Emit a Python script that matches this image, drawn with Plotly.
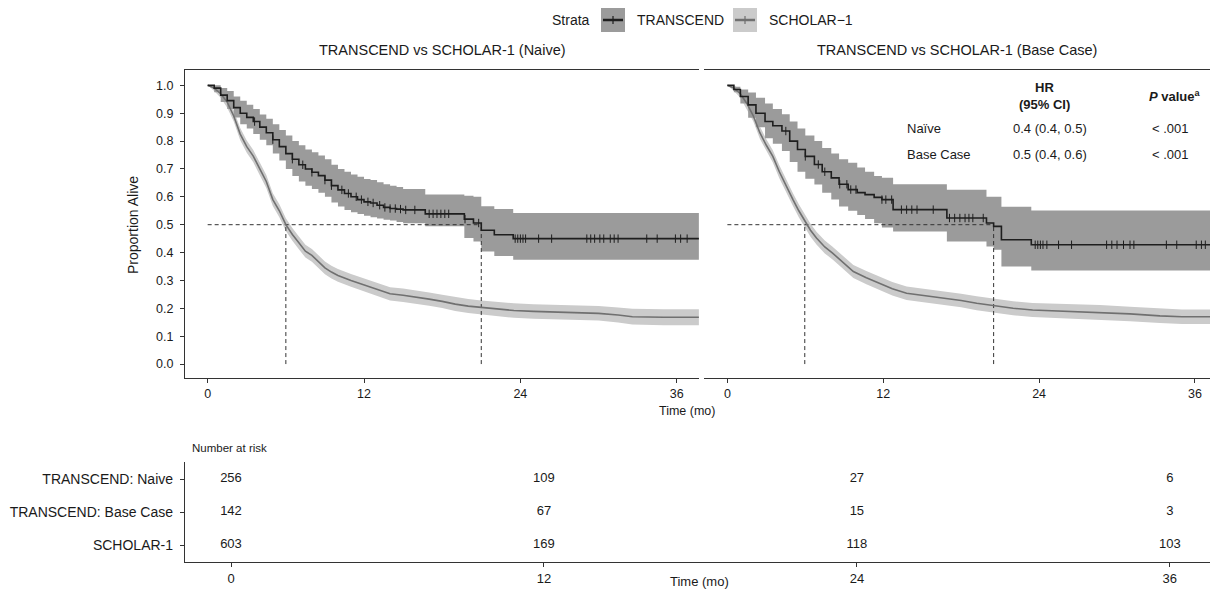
import numpy as np
import plotly.graph_objects as go

W, H = 1210, 590
FONT = "Liberation Sans, Arial, Helvetica, sans-serif"
TXT = "#1a1a1a"

# ---------------- data ----------------
# Left panel: TRANSCEND (Naive)
tn_t  = [0, 0.5, 1.0, 1.5, 2.0, 2.5, 3.0, 3.5, 4.0, 4.5, 5.0, 5.5, 6.0, 6.5, 7.0, 7.5, 8.0, 8.5, 9.0, 9.5,
         10.0, 10.5, 11.0, 11.5, 12.0, 12.5, 13.0, 13.5, 14.0, 14.5, 15.0, 16.7, 19.7, 20.4, 21.0, 22.0, 23.45, 37.7]
tn_s  = [1.0, 0.99, 0.965, 0.945, 0.92, 0.90, 0.885, 0.87, 0.85, 0.83, 0.805, 0.78, 0.755, 0.735, 0.715, 0.70,
         0.688, 0.676, 0.66, 0.64, 0.625, 0.612, 0.60, 0.59, 0.582, 0.578, 0.57, 0.562, 0.558, 0.556, 0.553,
         0.539, 0.52, 0.506, 0.48, 0.464, 0.45, 0.45]
tn_hi = [1.0, 1.0, 0.99, 0.98, 0.96, 0.945, 0.93, 0.915, 0.895, 0.88, 0.86, 0.84, 0.82, 0.80, 0.785, 0.77,
         0.76, 0.748, 0.735, 0.715, 0.70, 0.69, 0.68, 0.672, 0.664, 0.66, 0.652, 0.645, 0.64, 0.635, 0.628,
         0.608, 0.604, 0.60, 0.566, 0.556, 0.542, 0.542]
tn_lo = [1.0, 0.975, 0.94, 0.915, 0.885, 0.86, 0.845, 0.825, 0.805, 0.785, 0.755, 0.73, 0.70, 0.675, 0.655, 0.64,
         0.628, 0.615, 0.60, 0.58, 0.565, 0.553, 0.545, 0.538, 0.532, 0.527, 0.522, 0.518, 0.515, 0.51, 0.505,
         0.494, 0.452, 0.44, 0.404, 0.388, 0.374, 0.374]
tn_cens = [3.6, 5.0, 6.5, 7.3, 8.0, 9.0, 9.5, 10.3, 10.8, 11.4, 11.8, 12.3, 12.7, 13.2, 13.6, 14.0, 14.4, 14.8,
           15.2, 15.9, 17.0, 17.3, 17.6, 17.9, 18.2, 18.5, 19.75, 20.8, 23.6, 23.8, 24.0, 24.2, 24.4, 25.4, 26.4,
           29.1, 29.4, 29.7, 30.1, 30.4, 30.9, 31.2, 31.5, 33.7, 34.5, 35.9, 36.3, 36.8]

# Left panel: SCHOLAR-1
sn_t  = [0, 0.5, 1.0, 1.5, 2.0, 2.5, 3.0, 3.5, 4.0, 4.5, 5.0, 5.5, 6.0, 6.5, 7.0, 7.5, 8.0, 8.5, 9.0, 9.5,
         10.0, 11.0, 12.0, 13.0, 14.0, 15.0, 16.0, 17.0, 18.0, 19.0, 20.0, 21.0, 22.0, 23.5, 25.0, 27.0, 29.0,
         30.0, 31.5, 32.6, 35.0, 37.7]
sn_s  = [1.0, 0.99, 0.97, 0.94, 0.89, 0.825, 0.78, 0.746, 0.70, 0.655, 0.59, 0.55, 0.50, 0.465, 0.435, 0.405,
         0.39, 0.366, 0.345, 0.33, 0.318, 0.30, 0.284, 0.268, 0.252, 0.247, 0.241, 0.233, 0.225, 0.215, 0.208,
         0.203, 0.198, 0.192, 0.189, 0.186, 0.184, 0.182, 0.176, 0.170, 0.168, 0.168]
sn_hi = [1.0, 1.0, 0.985, 0.96, 0.91, 0.847, 0.802, 0.768, 0.723, 0.678, 0.613, 0.573, 0.523, 0.488, 0.458,
         0.428, 0.413, 0.389, 0.368, 0.353, 0.341, 0.323, 0.307, 0.291, 0.276, 0.271, 0.265, 0.257, 0.249,
         0.240, 0.233, 0.228, 0.223, 0.218, 0.215, 0.212, 0.21, 0.208, 0.203, 0.198, 0.197, 0.197]
sn_lo = [1.0, 0.98, 0.955, 0.92, 0.87, 0.803, 0.758, 0.724, 0.677, 0.632, 0.567, 0.527, 0.477, 0.442, 0.412,
         0.382, 0.367, 0.343, 0.322, 0.307, 0.295, 0.277, 0.261, 0.245, 0.228, 0.223, 0.217, 0.209, 0.201,
         0.190, 0.183, 0.178, 0.173, 0.166, 0.163, 0.160, 0.158, 0.156, 0.149, 0.142, 0.139, 0.139]

# Right panel: TRANSCEND (Base Case)
tb_t  = [0, 0.5, 1.0, 1.6, 2.2, 2.9, 3.5, 4.2, 4.8, 5.4, 6.0, 6.7, 7.3, 8.0, 8.6, 9.3, 10.0, 10.6, 11.3, 11.9,
         12.76, 16.9, 19.95, 20.5, 21.1, 23.4, 37.3]
tb_s  = [1.0, 0.985, 0.96, 0.93, 0.90, 0.87, 0.855, 0.836, 0.80, 0.77, 0.745, 0.716, 0.69, 0.668, 0.645, 0.626,
         0.615, 0.608, 0.598, 0.59, 0.554, 0.524, 0.506, 0.494, 0.446, 0.428, 0.428]
tb_hi = [1.0, 0.995, 0.985, 0.974, 0.955, 0.935, 0.915, 0.896, 0.87, 0.845, 0.82, 0.80, 0.775, 0.755, 0.735,
         0.722, 0.705, 0.69, 0.675, 0.668, 0.645, 0.625, 0.60, 0.60, 0.564, 0.551, 0.551]
tb_lo = [1.0, 0.975, 0.935, 0.884, 0.85, 0.81, 0.79, 0.764, 0.725, 0.69, 0.665, 0.644, 0.615, 0.59, 0.565,
         0.55, 0.535, 0.52, 0.505, 0.49, 0.476, 0.44, 0.422, 0.41, 0.35, 0.336, 0.336]
tb_cens = [4.5, 6.0, 7.0, 7.5, 8.65, 9.2, 9.5, 9.9, 11.9, 12.2, 12.65, 13.4, 13.8, 14.2, 14.6, 15.85, 17.1,
           17.5, 17.9, 18.3, 18.6, 18.9, 19.7, 23.7, 23.9, 24.1, 24.3, 24.6, 25.5, 26.5, 29.2, 29.6, 30.0,
           30.5, 31.0, 31.3, 33.8, 34.6, 36.1, 36.5, 36.8]

# Right panel: SCHOLAR-1
sb_t  = [0, 0.5, 1.0, 1.5, 2.0, 2.5, 3.0, 3.5, 4.0, 4.5, 5.05, 5.5, 5.96, 6.4, 6.86, 7.5, 8.1, 8.9, 9.7, 10.7,
         11.7, 12.7, 13.8, 15.0, 16.4, 18.0, 19.2, 20.5, 22.0, 23.5, 26.0, 28.7, 31.0, 33.3, 35.0, 37.3]
sb_s  = [1.0, 0.99, 0.97, 0.935, 0.89, 0.83, 0.785, 0.745, 0.69, 0.64, 0.59, 0.55, 0.512, 0.48, 0.452, 0.42,
         0.398, 0.365, 0.332, 0.31, 0.29, 0.27, 0.254, 0.247, 0.24, 0.228, 0.218, 0.209, 0.20, 0.194, 0.19,
         0.186, 0.18, 0.173, 0.17, 0.17]
sb_hi = [1.0, 1.0, 0.985, 0.955, 0.91, 0.852, 0.807, 0.767, 0.713, 0.663, 0.613, 0.573, 0.535, 0.503, 0.475,
         0.443, 0.421, 0.388, 0.355, 0.334, 0.314, 0.294, 0.278, 0.271, 0.264, 0.252, 0.243, 0.234, 0.225,
         0.219, 0.216, 0.212, 0.206, 0.199, 0.196, 0.196]
sb_lo = [1.0, 0.98, 0.955, 0.915, 0.87, 0.808, 0.763, 0.723, 0.667, 0.617, 0.567, 0.527, 0.489, 0.457, 0.429,
         0.397, 0.375, 0.342, 0.309, 0.286, 0.266, 0.246, 0.23, 0.223, 0.216, 0.204, 0.193, 0.184, 0.175,
         0.169, 0.164, 0.16, 0.154, 0.147, 0.144, 0.144]

# medians (months)
med_left = [6.0, 21.0]     # SCHOLAR-1, TRANSCEND
med_right = [5.96, 20.5]

panel_titles = ["TRANSCEND vs SCHOLAR-1 (Naive)", "TRANSCEND vs SCHOLAR-1 (Base Case)"]
y_ticks = [0.0, 0.1, 0.2, 0.3, 0.4, 0.5, 0.6, 0.7, 0.8, 0.9, 1.0]
x_ticks = [0, 12, 24, 36]

hr_rows = ["Naïve", "Base Case"]
hr_vals = ["0.4 (0.4, 0.5)", "0.5 (0.4, 0.6)"]
p_vals = ["< .001", "< .001"]

risk_labels = ["TRANSCEND: Naive", "TRANSCEND: Base Case", "SCHOLAR-1"]
risk_times = [0, 12, 24, 36]
risk_counts = [[256, 109, 27, 6],
               [142, 67, 15, 3],
               [603, 169, 118, 103]]

legend_names = ["TRANSCEND", "SCHOLAR\u22121"]

# ---------------- styles ----------------
T_LINE, T_BAND = "#1e1e1e", "#9b9b9b"
S_LINE, S_BAND = "#707070", "#cbcbcb"
AX = "#333333"

def px(x):
    return x / W

def py(y):
    return 1 - y / H

def step_at(ts, ss, c):
    i = int(np.searchsorted(np.array(ts), c, side="right")) - 1
    return ss[max(i, 0)]

fig = go.Figure()

def add_panel(xa, ya, T, S, cens, med):
    tt, ts, thi, tlo = T
    st, ss, shi, slo = S
    # SCHOLAR band
    fig.add_trace(go.Scatter(x=st, y=slo, mode="lines", line=dict(width=0, shape="linear"),
                             xaxis=xa, yaxis=ya, showlegend=False, hoverinfo="skip"))
    fig.add_trace(go.Scatter(x=st, y=shi, mode="lines", line=dict(width=0, shape="linear"), fill="tonexty",
                             fillcolor=S_BAND, xaxis=xa, yaxis=ya, showlegend=False, hoverinfo="skip"))
    # TRANSCEND band
    fig.add_trace(go.Scatter(x=tt, y=tlo, mode="lines", line=dict(width=0, shape="hv"),
                             xaxis=xa, yaxis=ya, showlegend=False, hoverinfo="skip"))
    fig.add_trace(go.Scatter(x=tt, y=thi, mode="lines", line=dict(width=0, shape="hv"), fill="tonexty",
                             fillcolor=T_BAND, xaxis=xa, yaxis=ya, showlegend=False, hoverinfo="skip"))
    # dashed median guides
    fig.add_trace(go.Scatter(x=[0, med[1]], y=[0.5, 0.5], mode="lines",
                             line=dict(color=AX, width=1, dash="4px,3px"), xaxis=xa, yaxis=ya, showlegend=False))
    for m in med:
        fig.add_trace(go.Scatter(x=[m, m], y=[0.0, 0.5], mode="lines",
                                 line=dict(color=AX, width=1, dash="4px,3px"), xaxis=xa, yaxis=ya,
                                 showlegend=False))
    # lines
    fig.add_trace(go.Scatter(x=st, y=ss, mode="lines", line=dict(color=S_LINE, width=1.6, shape="linear"),
                             xaxis=xa, yaxis=ya, showlegend=False))
    fig.add_trace(go.Scatter(x=tt, y=ts, mode="lines", line=dict(color=T_LINE, width=1.6, shape="hv"),
                             xaxis=xa, yaxis=ya, showlegend=False))
    fig.add_trace(go.Scatter(x=cens, y=[step_at(tt, ts, c) for c in cens], mode="markers",
                             marker=dict(symbol="line-ns-open", size=6, color=T_LINE,
                                         line=dict(color=T_LINE, width=1)),
                             xaxis=xa, yaxis=ya, showlegend=False))

add_panel("x", "y", (tn_t, tn_s, tn_hi, tn_lo), (sn_t, sn_s, sn_hi, sn_lo), tn_cens, med_left)
add_panel("x2", "y2", (tb_t, tb_s, tb_hi, tb_lo), (sb_t, sb_s, sb_hi, sb_lo), tb_cens, med_right)

# risk table numbers
for r, (lab, counts) in enumerate(zip(risk_labels, risk_counts)):
    fig.add_trace(go.Scatter(x=risk_times, y=[3 - r] * len(risk_times), mode="text",
                             text=[str(c) for c in counts],
                             textfont=dict(family=FONT, size=13, color=TXT),
                             xaxis="x3", yaxis="y3", showlegend=False))

tickfont = dict(family=FONT, size=12.5, color=TXT)
ydom = [py(378), py(70)]
common_x = dict(tickvals=x_ticks, ticks="outside", ticklen=4, tickcolor=AX, showline=True, linecolor=AX,
                linewidth=1.3, mirror=True, showgrid=False, zeroline=False, tickfont=tickfont)

fig.update_layout(
    width=W, height=H, margin=dict(l=0, r=0, t=0, b=0),
    paper_bgcolor="white", plot_bgcolor="white", showlegend=False,
    font=dict(family=FONT, color=TXT),
    xaxis=dict(domain=[px(185), px(699)], range=[-1.74, 37.71], anchor="y", **common_x),
    yaxis=dict(domain=ydom, range=[-0.05, 1.055], anchor="x", tickvals=y_ticks,
               ticktext=["%.1f" % v for v in y_ticks], ticks="outside", ticklen=4, tickcolor=AX,
               ticklabelstandoff=4,
               showline=True, linecolor=AX, linewidth=1.3, showgrid=False, zeroline=False, tickfont=tickfont),
    xaxis2=dict(domain=[px(704), 1.0], range=[-1.80, 37.16], anchor="y2", **common_x),
    yaxis2=dict(domain=ydom, range=[-0.05, 1.055], anchor="x2", showline=False, showticklabels=False,
                ticks="", showgrid=False, zeroline=False),
    xaxis3=dict(domain=[px(185), 1.0], range=[-1.764, 37.54], anchor="y3", tickvals=risk_times,
                ticks="outside", ticklen=4, tickcolor=AX, showline=True, linecolor=AX, linewidth=1.3,
                showgrid=False, zeroline=False, tickfont=dict(family=FONT, size=13, color=TXT)),
    yaxis3=dict(domain=[py(562), py(462)], range=[0.485, 3.515], anchor="x3", tickvals=[3, 2, 1],
                ticktext=risk_labels, ticks="outside", ticklen=4, tickcolor=AX, showline=True,
                ticklabelstandoff=4,
                linecolor=AX, linewidth=1.3, showgrid=False, zeroline=False,
                tickfont=dict(family=FONT, size=14, color=TXT)),
)

ann = []
def text(x, y, s, size=13, xanchor="center", angle=0):
    ann.append(dict(x=px(x), y=py(y), xref="paper", yref="paper", text=s, showarrow=False,
                    xanchor=xanchor, yanchor="middle", textangle=angle,
                    font=dict(family=FONT, size=size, color=TXT)))

# panel titles
text(442, 50, panel_titles[0], size=14.5)
text(957, 50, panel_titles[1], size=14.5)
# axis titles
text(133, 225, "Proportion Alive", size=14, angle=-90)
text(687, 411, "Time (mo)", size=12.5)
text(699, 581, "Time (mo)", size=13)
text(190, 448, "Number at risk", size=11.5, xanchor="left")
# HR table
text(1044, 88, "<b>HR</b>", size=13)
text(1044, 104, "<b>(95% CI)</b>", size=13)
text(1175, 96, "<b><i>P</i> value<sup>a</sup></b>", size=13)
for i, (r, v, p) in enumerate(zip(hr_rows, hr_vals, p_vals)):
    yy = 128 + 26 * i
    text(905, yy, r, size=13, xanchor="left")
    text(1050, yy, v, size=13)
    text(1170, yy, p, size=13)

# legend
text(592, 20, "Strata", size=14, xanchor="right")
shapes = []
for (x0, name, band, line) in [(601, legend_names[0], T_BAND, T_LINE), (733, legend_names[1], S_BAND, S_LINE)]:
    shapes.append(dict(type="rect", xref="paper", yref="paper", x0=px(x0), x1=px(x0 + 24), y0=py(32), y1=py(8),
                       fillcolor=band, line=dict(width=0)))
    shapes.append(dict(type="line", xref="paper", yref="paper", x0=px(x0 + 2), x1=px(x0 + 22), y0=py(20), y1=py(20),
                       line=dict(color=line, width=2.5)))
    shapes.append(dict(type="line", xref="paper", yref="paper", x0=px(x0 + 12), x1=px(x0 + 12), y0=py(16), y1=py(24),
                       line=dict(color=line, width=1.2)))
    text(x0 + 34, 20, name, size=14, xanchor="left")

fig.update_layout(annotations=ann, shapes=shapes)
fig.write_html("out.html", config={"displayModeBar": False},
               post_script="document.body.style.margin='0';document.body.style.padding='0';")
